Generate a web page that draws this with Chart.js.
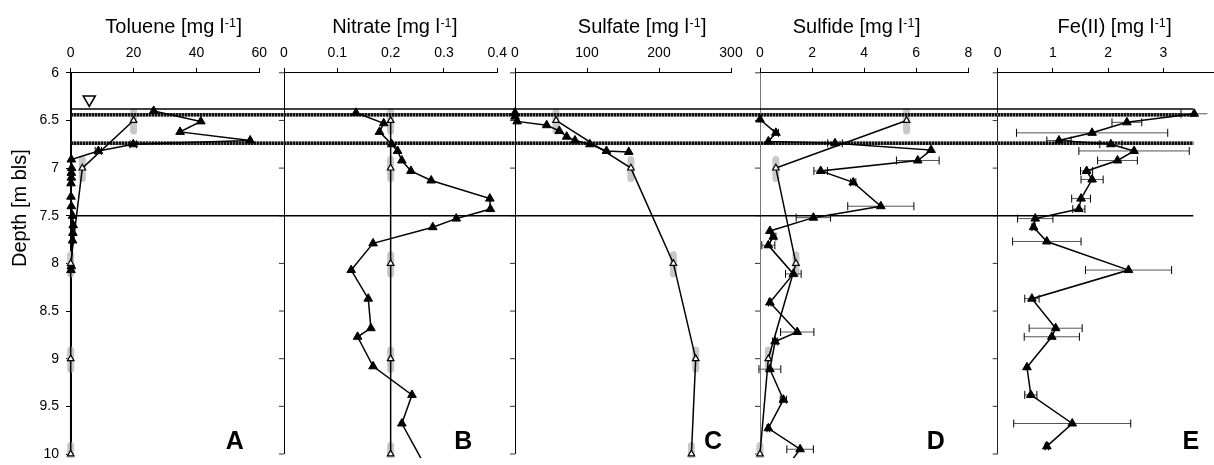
<!DOCTYPE html>
<html>
<head>
<meta charset="utf-8">
<title>Depth profiles</title>
<script src="https://cdn.jsdelivr.net/npm/chart.js@4.4.1/dist/chart.umd.min.js"></script>
<style>
  body { margin: 0; background: #fff; }
  #wrap { width: 1214px; height: 465px; }
</style>
</head>
<body>
<div id="wrap"><canvas id="profiles" width="1214" height="465"></canvas></div>
<script>
// depths [m bls] of the open-triangle samples (same for A-D)
var sampleDepth = [6.5, 7.0, 8.0, 9.0, 10.0];

// A: toluene [mg/l]
var tolDepth  = [6.40, 6.51, 6.62, 6.71, 6.75, 6.82, 6.91, 7.00, 7.05, 7.10, 7.16, 7.30, 7.40, 7.50, 7.60, 7.68, 7.76, 8.03, 8.07];
var tolFilled = [26.4, 41.4, 34.8, 57.1, 19.9, 8.8, 0.2, 0.3, 0.2, 0.2, 0.1, 0.1, 0.2, 0.6, 0.8, 0.7, 0.6, 0.2, 0.1];
var tolErr    = [0, 0, 0, 0, 1.0, 1.0, 0, 0, 0, 0, 0, 0, 0, 0, 0, 0, 0, 0, 0];
var tolOpen   = [20, 3.7, 0, 0, 0];

// B: nitrate [mg/l]
var nitDepth  = [6.42, 6.53, 6.62, 6.75, 6.82, 6.92, 7.03, 7.13, 7.32, 7.43, 7.53, 7.62, 7.79, 8.07, 8.37, 8.68, 8.77, 9.08, 9.38, 9.68, 10.2];
var nitFilled = [0.135, 0.187, 0.179, 0.202, 0.213, 0.221, 0.238, 0.276, 0.386, 0.387, 0.323, 0.279, 0.167, 0.126, 0.158, 0.163, 0.138, 0.167, 0.240, 0.221, 0.272];
var nitOpen   = [0.2, 0.2, 0.2, 0.2, 0.2];

// C: sulfate [mg/l]
var sulDepth  = [6.42, 6.46, 6.51, 6.55, 6.61, 6.67, 6.71, 6.75, 6.82, 6.83];
var sulFilled = [0, 0, 3, 44, 61.5, 71.8, 83.3, 104, 127, 158];
var sulOpen   = [57, 161, 220, 251, 245];

// D: sulfide [mg/l]
var sfdDepth  = [6.49, 6.63, 6.72, 6.74, 6.81, 6.92, 7.03, 7.15, 7.40, 7.52, 7.66, 7.72, 7.81, 8.11, 8.41, 8.72, 8.82, 9.11, 9.43, 9.73, 9.95, 10.1];
var sfdFilled = [0, 0.61, 0.32, 2.88, 6.57, 6.06, 2.33, 3.58, 4.64, 2.05, 0.38, 0.51, 0.32, 1.28, 0.38, 1.43, 0.58, 0.38, 0.9, 0.32, 1.54, 1.13];
var sfdErr    = [0, 0.1, 0, 0.28, 0, 0.82, 0.26, 0.1, 1.27, 0.66, 0, 0.1, 0.25, 0.3, 0.05, 0.64, 0.1, 0.42, 0.12, 0.05, 0.51, 0];
var sfdOpen   = [5.63, 0.61, 1.38, 0.32, 0];

// E: Fe(II) [mg/l]
var feDepth  = [6.43, 6.52, 6.63, 6.71, 6.75, 6.82, 6.92, 7.03, 7.12, 7.32, 7.43, 7.53, 7.62, 7.77, 8.07, 8.37, 8.68, 8.77, 9.09, 9.38, 9.68, 9.92];
var feFilled = [3.56, 2.34, 1.71, 1.11, 2.05, 2.47, 2.17, 1.61, 1.71, 1.51, 1.47, 0.68, 0.65, 0.89, 2.37, 0.62, 1.05, 0.98, 0.53, 0.6, 1.35, 0.89];
var feErr    = [0.24, 0.27, 1.37, 0.22, 0.2, 1.0, 0.36, 0.11, 0.2, 0.17, 0.11, 0.32, 0.03, 0.62, 0.78, 0.13, 0.48, 0.5, 0, 0.11, 1.06, 0.03];

// water table symbol in panel A
var waterTableX = 5.9;
var waterTableDepth = 6.28;

// horizontal boundaries across all panels [m bls]
var solidDepths = [6.38, 7.5];
var hatchDepths = [6.44, 6.74];

var depthTitle = 'Depth [m bls]';

// panel setup: axis range, pixel extent, title and letter position
var panels = [
  {id: 'xA', name: 'Toluene', min: 0, max: 60, step: 20, px: [70.7, 259.3], titleX: 32.6, letter: 'A', letterX: 52.2, axisColor: '#000',
   filledX: tolFilled, filledY: tolDepth, err: tolErr, openX: tolOpen},
  {id: 'xB', name: 'Nitrate', min: 0, max: 0.4, step: 0.1, px: [284, 497.3], titleX: 0.207, letter: 'B', letterX: 0.336, axisColor: '#000',
   filledX: nitFilled, filledY: nitDepth, err: null, openX: nitOpen},
  {id: 'xC', name: 'Sulfate', min: 0, max: 300, step: 100, px: [515, 731], titleX: 176, letter: 'C', letterX: 275, axisColor: '#000',
   filledX: sulFilled, filledY: sulDepth, err: null, openX: sulOpen},
  {id: 'xD', name: 'Sulfide', min: 0, max: 8, step: 2, px: [760, 968.3], titleX: 3.69, letter: 'D', letterX: 6.75, axisColor: '#777',
   filledX: sfdFilled, filledY: sfdDepth, err: sfdErr, openX: sfdOpen},
  {id: 'xE', name: 'Fe(II)', min: 0, max: 3.9, step: 1, px: [997.7, 1213], titleX: 2.11, letter: 'E', letterX: 3.5, axisColor: '#222',
   filledX: feFilled, filledY: feDepth, err: feErr, openX: null}
];
var letterDepth = 9.88;
var FONT = "'Liberation Sans', Arial, sans-serif";

function asPoints(xs, ys) {
  return xs.map(function (v, i) { return {x: v, y: ys[i]}; });
}

// horizontal error bars, split by null points
function errorBars(xs, ys, errs) {
  var out = [];
  xs.forEach(function (v, i) {
    if (errs[i] > 0) {
      out.push({x: v - errs[i], y: ys[i]}, {x: v + errs[i], y: ys[i]}, {x: null, y: null});
    }
  });
  return out;
}

// grey sampling-interval bars behind the open triangles
function sampleBars(xs, ys) {
  var out = [];
  xs.forEach(function (v, i) {
    out.push({x: v, y: ys[i] - 0.09}, {x: v, y: ys[i] + 0.11}, {x: null, y: null});
  });
  return out;
}

var clipBox = {left: false, right: false, top: false, bottom: 4};
var datasets = [];

panels.forEach(function (p) {
  if (p.openX) {
    datasets.push({
      label: p.letter + ' interval', xAxisID: p.id, yAxisID: 'y',
      data: sampleBars(p.openX, sampleDepth),
      borderColor: '#c8c8c8', borderWidth: 7, borderCapStyle: 'round',
      pointRadius: 0, order: 3, clip: clipBox
    });
  }
  if (p.err) {
    datasets.push({
      label: p.letter + ' error', xAxisID: p.id, yAxisID: 'y',
      data: errorBars(p.filledX, p.filledY, p.err),
      borderColor: '#555', borderWidth: 1,
      pointStyle: 'line', rotation: 90, pointRadius: 4,
      pointBorderColor: '#000', pointBorderWidth: 1, order: 2, clip: clipBox
    });
  }
  datasets.push({
    label: p.letter + ' filled', xAxisID: p.id, yAxisID: 'y',
    data: asPoints(p.filledX, p.filledY),
    borderColor: '#000', borderWidth: 1.5,
    pointStyle: 'triangle', pointRadius: 5,
    pointBackgroundColor: '#000', pointBorderColor: '#000', pointBorderWidth: 1,
    order: 1, clip: clipBox
  });
  if (p.openX) {
    datasets.push({
      label: p.letter + ' open', xAxisID: p.id, yAxisID: 'y',
      data: asPoints(p.openX, sampleDepth),
      borderColor: '#000', borderWidth: 1.5,
      pointStyle: 'triangle', pointRadius: 3.8,
      pointBackgroundColor: '#fff', pointBorderColor: '#000', pointBorderWidth: 1.2,
      order: 0, clip: clipBox
    });
  }
});

datasets.push({
  label: 'water table', xAxisID: 'xA', yAxisID: 'y',
  data: [{x: waterTableX, y: waterTableDepth}],
  showLine: false, pointStyle: 'triangle', rotation: 180, pointRadius: 7,
  pointBackgroundColor: '#fff', pointBorderColor: '#000', pointBorderWidth: 1.5, order: 0
});

var scales = {
  y: {
    type: 'linear', position: 'left', reverse: true, min: 6, max: 10,
    afterFit: function (s) {
      s.width = 71;
      s.paddingTop = 0;
      s.paddingBottom = 0;
    },
    ticks: {stepSize: 0.5, padding: 7, color: '#000', font: {size: 14},
            callback: function (v) { return String(v); }},
    grid: {drawOnChartArea: false, tickLength: 5, tickColor: '#000'},
    border: {color: '#000', width: 1}
  }
};

panels.forEach(function (p) {
  scales[p.id] = {
    type: 'linear', position: 'top', stack: 'panels', min: p.min, max: p.max,
    ticks: {stepSize: p.step, includeBounds: false, padding: 6, color: '#000', font: {size: 14},
            callback: function (v) { return String(v); }},
    grid: {
      drawOnChartArea: true, tickLength: 5, tickColor: '#000', lineWidth: 1,
      color: function (c) { return (c.tick && c.tick.value === 0) ? p.axisColor : 'rgba(0,0,0,0)'; }
    },
    border: {color: '#000', width: 1}
  };
});

function hline(ctx, x1, x2, y) {
  ctx.beginPath();
  ctx.moveTo(x1, y);
  ctx.lineTo(x2, y);
  ctx.stroke();
}

// "Name [mg l-1]" with a raised -1
function drawUnitTitle(ctx, cx, baseline, name) {
  var main = name + ' [mg l', sup = '-1', tail = ']';
  ctx.font = '20px ' + FONT;
  var w1 = ctx.measureText(main).width, w3 = ctx.measureText(tail).width;
  ctx.font = '12.5px ' + FONT;
  var w2 = ctx.measureText(sup).width;
  var x = cx - (w1 + w2 + w3) / 2;
  ctx.textAlign = 'left';
  ctx.textBaseline = 'alphabetic';
  ctx.font = '20px ' + FONT;
  ctx.fillText(main, x, baseline);
  ctx.font = '12.5px ' + FONT;
  ctx.fillText(sup, x + w1 + 0.5, baseline - 6);
  ctx.font = '20px ' + FONT;
  ctx.fillText(tail, x + w1 + w2 + 1, baseline);
}

var linesDone = false;
function drawBoundaries(chart) {
  var ctx = chart.ctx, y = chart.scales.y, a = chart.chartArea;
  var x1 = a.left, x2 = a.right - 3;
  ctx.save();
  ctx.lineCap = 'butt';
  solidDepths.forEach(function (d) {
    ctx.strokeStyle = '#000';
    ctx.lineWidth = 1.5;
    ctx.setLineDash([]);
    hline(ctx, x1, x2, y.getPixelForValue(d));
  });
  hatchDepths.forEach(function (d) {
    var py = y.getPixelForValue(d);
    ctx.strokeStyle = '#777';
    ctx.lineWidth = 3.5;
    ctx.setLineDash([]);
    hline(ctx, x1, x2, py);
    ctx.strokeStyle = '#111';
    ctx.setLineDash([2, 1]);
    hline(ctx, x1, x2, py);
  });
  ctx.restore();
}

var decor = {
  id: 'decor',
  afterLayout: function (chart) {
    // put each concentration axis at its own panel
    panels.forEach(function (p) {
      var s = chart.scales[p.id];
      s.left = p.px[0];
      s.right = p.px[1];
      s.width = s.right - s.left;
      s.configure();
    });
  },
  beforeDatasetsDraw: function (chart) {
    linesDone = false;
    var ctx = chart.ctx, y = chart.scales.y;
    // depth ticks on the left of panels B-E
    ctx.save();
    ctx.strokeStyle = '#333';
    ctx.lineWidth = 1;
    panels.slice(1).forEach(function (p) {
      var x0 = chart.scales[p.id].getPixelForValue(0);
      y.ticks.forEach(function (t) {
        hline(ctx, x0 - 5, x0, y.getPixelForValue(t.value));
      });
    });
    ctx.restore();
  },
  beforeDatasetDraw: function (chart, args) {
    if (!linesDone && args.meta.order < 3) {
      drawBoundaries(chart);
      linesDone = true;
    }
  },
  afterDatasetsDraw: function (chart) {
    var ctx = chart.ctx, y = chart.scales.y;
    ctx.save();
    ctx.fillStyle = '#000';
    panels.forEach(function (p) {
      var s = chart.scales[p.id];
      drawUnitTitle(ctx, s.getPixelForValue(p.titleX), 33, p.name);
      ctx.font = 'bold 25px ' + FONT;
      ctx.textAlign = 'center';
      ctx.textBaseline = 'middle';
      ctx.fillText(p.letter, s.getPixelForValue(p.letterX), y.getPixelForValue(letterDepth));
    });
    // depth title, rotated
    ctx.translate(20, y.getPixelForValue(7.42));
    ctx.rotate(-Math.PI / 2);
    ctx.font = '20px ' + FONT;
    ctx.textAlign = 'center';
    ctx.textBaseline = 'middle';
    ctx.fillText(depthTitle, 0, 0);
    ctx.restore();
  }
};

Chart.defaults.font.family = FONT;
Chart.defaults.color = '#000';

var ctx = document.getElementById('profiles').getContext('2d');
var profileChart = new Chart(ctx, {
  type: 'scatter',
  data: {datasets: datasets},
  options: {
    responsive: false,
    animation: false,
    events: [],
    showLine: true,
    layout: {autoPadding: false, padding: {top: 39, right: 1, bottom: 11, left: 0}},
    plugins: {legend: {display: false}, tooltip: {enabled: false}},
    scales: scales
  },
  plugins: [decor]
});
</script>
</body>
</html>
